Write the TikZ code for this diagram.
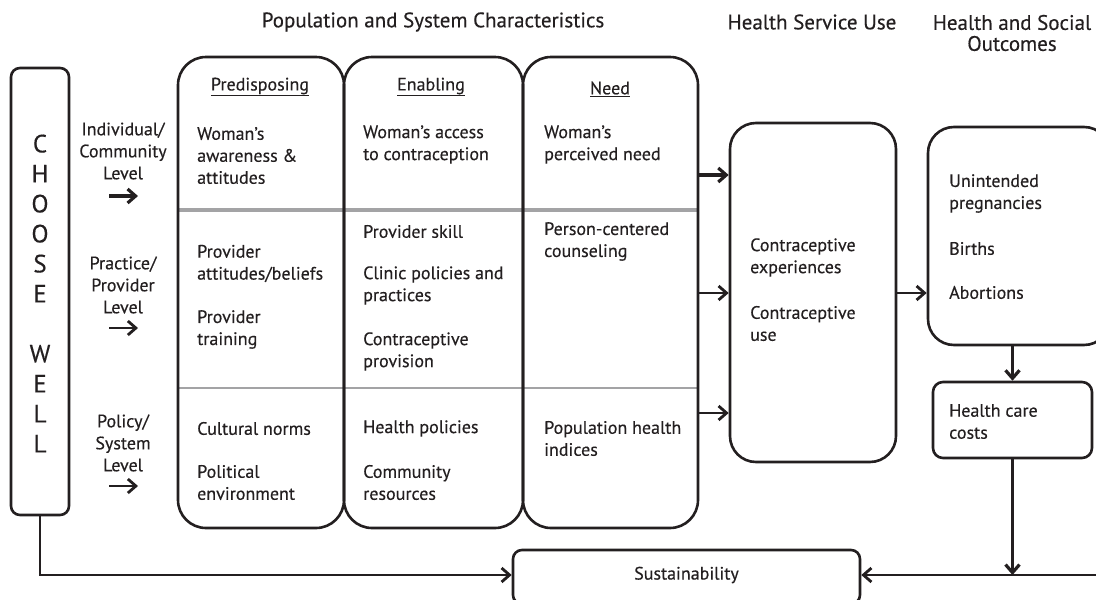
\documentclass[tikz,border=0pt]{standalone}
\usepackage{fontspec}
\setmainfont{PT Sans}[FakeBold=0.35]
\usetikzlibrary{arrows.meta}
\definecolor{ink}{HTML}{231F20}
\definecolor{rule}{HTML}{A3A3A5}
\begin{document}
\begin{tikzpicture}[x=1pt,y=-1pt,
  every node/.style={text=ink},
  box/.style={draw=ink, line width=2.6pt, inner sep=0pt},
  col/.style={box, rounded corners=28pt, minimum height=471pt},
  txt/.style={font=\fontsize{18}{22}\selectfont, align=left, anchor=west, inner sep=0pt, yshift=-1.5pt},
  ctxt/.style={font=\fontsize{18}{22}\selectfont, align=center, inner sep=0pt},
  head/.style={font=\fontsize{21}{22}\selectfont, align=center, inner sep=0pt},
  arr/.style={draw=ink, line width=2.6pt, -{Straight Barb[length=8pt,width=14pt,line width=2.8pt]}},
  thickarr/.style={arr, line width=3.6pt, -{Straight Barb[length=8pt,width=14pt,line width=3.2pt]}}
]
\useasboundingbox (0,0) rectangle (1096,600);
\clip (0,0) rectangle (1096,600);

% top headers
\node[head] (h1) at (433,22) {Population and System Characteristics};
\node[head] (h2) at (812,22) {Health Service Use};
\node[head] (h3) at (1012,33) {Health and Social\\[-1pt]Outcomes};

% gray rules
\coordinate (g1a) at (178,210); \coordinate (g1b) at (698,210);
\coordinate (g2a) at (178,388); \coordinate (g2b) at (698,388);
\draw[rule, line width=3.2pt] (g1a) -- (g1b);
\draw[rule, line width=2.2pt] (g2a) -- (g2b);

% CHOOSE WELL
\node[box, rounded corners=9pt, minimum width=58pt, minimum height=447pt] (choose) at (40,291.5) {};
\node[font=\fontsize{25}{30}\selectfont, align=center, inner sep=0pt] (chooset) at (40,293.5)
  {C\\H\\O\\O\\S\\E\\[30pt]W\\E\\L\\L};

% level labels
\node[ctxt] (lv1) at (123,151) {Individual/\\Community\\Level};
\node[ctxt] (lv2) at (123,285) {Practice/\\Provider\\Level};
\node[ctxt] (lv3) at (123,443) {Policy/\\System\\Level};
\coordinate (a1s) at (109,196); \coordinate (a1e) at (138,196);
\coordinate (a2s) at (109,328); \coordinate (a2e) at (138,328);
\coordinate (a3s) at (109,486); \coordinate (a3e) at (138,486);
\draw[thickarr] (a1s) -- (a1e);
\draw[arr] (a2s) -- (a2e);
\draw[arr] (a3s) -- (a3e);

% columns
\node[col, minimum width=166pt] (pred) at (261,292.5) {};
\node[col, minimum width=179pt] (enab) at (433.5,292.5) {};
\node[col, minimum width=175pt] (need) at (610.5,292.5) {};

\node[ctxt] (ph) at (260,87) {\underline{Predisposing}};
\node[ctxt] (eh) at (431,87) {\underline{Enabling}};
\node[ctxt] (nh) at (610,89) {\underline{Need}};

\node[txt] (p1) at (197,154) {Woman’s\\awareness \&\\attitudes};
\node[txt] (p2) at (197,262) {Provider\\attitudes/beliefs};
\node[txt] (p3) at (197,328) {Provider\\training};
\node[txt] (p4) at (197,427) {Cultural norms};
\node[txt] (p5) at (197,481) {Political\\environment};

\node[txt] (e1) at (363,143) {Woman’s access\\to contraception};
\node[txt] (e2) at (363,230) {Provider skill};
\node[txt] (e3) at (363,284) {Clinic policies and\\practices};
\node[txt] (e4) at (363,350) {Contraceptive\\provision};
\node[txt] (e5) at (363,427) {Health policies};
\node[txt] (e6) at (363,481) {Community\\resources};

\node[txt] (n1) at (544,143) {Woman’s\\perceived need};
\node[txt] (n2) at (544,240) {Person-centered\\counseling};
\node[txt] (n3) at (544,437) {Population health\\indices};

% health service use
\node[box, rounded corners=26pt, minimum width=166pt, minimum height=339pt] (cu) at (813,292.5) {};
\node[txt] (cu1) at (750,256) {Contraceptive\\experiences};
\node[txt] (cu2) at (750,322) {Contraceptive\\use};

% outcomes
\node[box, rounded corners=26pt, minimum width=182pt, minimum height=218pt] (out) at (1019,236) {};
\node[txt] (o1) at (949,192) {Unintended\\pregnancies};
\node[txt] (o2) at (949,247) {Births};
\node[txt] (o3) at (949,291) {Abortions};

\node[box, rounded corners=10pt, minimum width=159pt, minimum height=76pt] (hcc) at (1012.5,420) {};
\node[txt] (hc1) at (949,420) {Health care\\costs};

% sustainability
\node[box, rounded corners=9pt, minimum width=347pt, minimum height=54pt] (sus) at (686.5,577) {};
\node[ctxt] (sust) at (686.5,575) {Sustainability};

% connectors
\coordinate (r1) at (0,175);
\coordinate (r2) at (0,293);
\coordinate (r3) at (0,413);
\coordinate (rb) at (1100,575);
\draw[thickarr] (need.east |- r1) -- (cu.west |- r1);
\draw[arr] (need.east |- r2) -- (cu.west |- r2);
\draw[arr] (need.east |- r3) -- (cu.west |- r3);
\draw[arr] (cu.east |- r2) -- (out.west |- r2);
\draw[thickarr] (out.south -| hcc.north) -- (hcc.north);
\draw[thickarr] (hcc.south) -- (hcc.south |- rb);
\draw[arr] (rb) -- (sus.east |- rb);
\draw[arr] (choose.south) |- (sus.west |- rb);
\end{tikzpicture}
\end{document}
